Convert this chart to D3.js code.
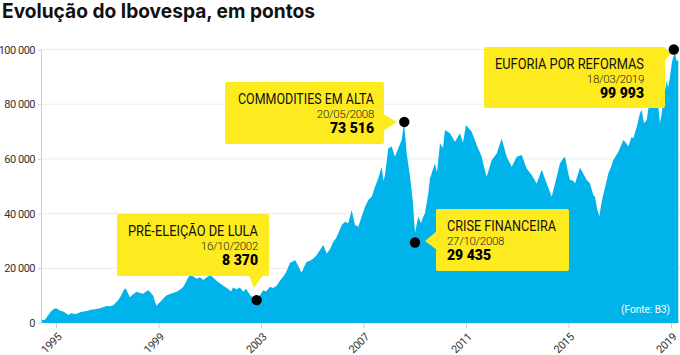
<!DOCTYPE html>
<html><head><meta charset="utf-8">
<script src="https://cdn.jsdelivr.net/npm/d3@7"></script>
<style>body{margin:0;background:#fff} svg{display:block}</style>
</head><body><svg id="c" width="680" height="355"></svg>
<script>
// Ibovespa series: [decimal year, points]
const series = [
[1994.415,1100],[1994.571,1200],[1994.700,2900],[1994.805,4200],[1994.895,5000],[1995.000,5400],[1995.078,5000],[1995.156,4500],[1995.285,4200],[1995.390,3600],[1995.480,2900],[1995.613,3700],[1995.702,3300],[1995.808,3400],[1995.937,3900],
[1996.065,4200],[1996.210,4400],[1996.327,4750],[1996.522,5000],[1996.717,5400],[1996.834,5800],[1996.979,6200],[1997.107,6100],[1997.236,6500],[1997.341,7500],[1997.431,8400],[1997.537,10000],[1997.615,11500],[1997.693,12700],[1997.759,12000],[1997.829,10500],[1997.888,9400],
[1998.005,10500],[1998.149,11400],[1998.278,11000],[1998.407,10700],[1998.512,11500],[1998.602,12000],[1998.707,11000],[1998.797,10000],[1998.863,7800],[1998.930,6200],[1998.980,7000],[1999.059,7600],[1999.187,9000],[1999.293,10000],[1999.449,10600],[1999.566,11000],[1999.710,11400],[1999.839,12200],[1999.968,13300],
[2000.073,15000],[2000.151,16500],[2000.229,17500],[2000.358,17000],[2000.491,16200],[2000.620,16700],[2000.748,15700],[2000.854,16500],[2001.010,17500],[2001.088,17000],[2001.205,16000],[2001.322,15000],[2001.400,14500],[2001.529,13600],[2001.634,13000],[2001.712,12500],[2001.829,11500],[2001.907,13000],
[2002.052,12300],[2002.180,13000],[2002.309,11400],[2002.415,12500],[2002.571,10200],[2002.688,9200],[2002.832,8400],[2002.922,9500],[2003.000,10800],[2003.090,12000],[2003.195,11500],[2003.351,13300],[2003.468,12800],[2003.613,13600],[2003.741,15500],[2003.870,17000],[2003.976,18500],
[2004.132,22000],[2004.249,22500],[2004.327,23000],[2004.405,21800],[2004.522,19500],[2004.588,18400],[2004.678,20500],[2004.783,22400],[2004.912,22800],[2005.041,23600],[2005.146,24500],[2005.302,26700],[2005.431,28500],[2005.564,25400],[2005.693,27000],[2005.821,29700],[2005.927,31000],
[2006.017,32800],[2006.149,35800],[2006.278,37000],[2006.407,36500],[2006.539,41300],[2006.668,35800],[2006.797,35200],[2006.930,38900],[2007.059,42500],[2007.187,45000],[2007.320,46200],[2007.449,49800],[2007.578,52900],[2007.710,57100],[2007.780,52000],[2007.839,54100],[2007.968,63900],
[2008.100,64500],[2008.229,60800],[2008.358,63900],[2008.491,66900],[2008.580,73500],[2008.686,62000],[2008.815,53600],[2008.920,45000],[2009.010,33000],[2009.139,38900],[2009.244,36500],[2009.334,38900],[2009.400,40100],[2009.529,47400],[2009.595,52900],[2009.790,58400],[2009.868,55000],[2009.985,65700],
[2010.102,64000],[2010.180,70600],[2010.376,69400],[2010.571,66300],[2010.766,69400],[2010.883,66000],[2011.000,72400],[2011.222,69900],[2011.418,65100],[2011.613,60800],[2011.702,57000],[2011.808,53500],
[2012.003,59600],[2012.198,62000],[2012.393,67500],[2012.588,60800],[2012.783,57100],[2012.979,60800],[2013.174,61400],[2013.369,56500],[2013.564,54100],[2013.759,51000],[2013.954,56000],
[2014.149,51000],[2014.344,46200],[2014.540,53500],[2014.668,58400],[2014.797,60200],[2014.863,60800],[2014.992,54700],[2015.059,52300],[2015.187,52000],[2015.254,51000],[2015.449,56800],[2015.644,53500],[2015.710,52300],[2015.839,51000],[2015.968,46800],
[2016.034,46200],[2016.112,42000],[2016.202,38900],[2016.268,43000],[2016.358,47000],[2016.463,51000],[2016.553,54700],[2016.659,57000],[2016.748,59600],[2016.943,62500],[2017.139,66900],[2017.271,65500],[2017.334,64500],[2017.466,68100],[2017.529,67500],[2017.661,71700],[2017.790,76700],[2017.857,77900],[2017.946,73000],
[2018.052,74200],[2018.141,80000],[2018.247,85200],[2018.337,83000],[2018.442,86400],[2018.493,80000],[2018.571,73000],[2018.629,76000],[2018.700,81500],[2018.766,85000],[2018.832,88800],[2018.883,86000],[2018.961,90000],[2019.039,95500],[2019.098,97500],[2019.156,98500],[2019.215,96000],[2019.285,96000]
];
const yTicks = [0, 20000, 40000, 60000, 80000, 100000];
const xTicks = [1995, 1999, 2003, 2007, 2011, 2015, 2019];
const annoTitles = ["PRÉ-ELEIÇÃO DE LULA", "COMMODITIES EM ALTA", "CRISE FINANCEIRA", "EUFORIA POR REFORMAS"];
const annoDates = ["16/10/2002", "20/05/2008", "27/10/2008", "18/03/2019"];
const annoValues = [8370, 73516, 29435, 99993];
const annoYears = [2002.832, 2008.592, 2009.010, 2019.11];

const BLUE = "#00b4eb", YELLOW = "#feeb1f";
const svg = d3.select("#c");
const x = d3.scaleLinear().domain([1995, 2019]).range([56, 671]);
const y = d3.scaleLinear().domain([0, 100000]).range([323, 49.5]);
const fmt = d => d3.format(",")(d).replace(/,/g, " ");

// title
svg.append("text").attr("x", 2).attr("y", 18)
  .attr("font-family", "Inter, Roboto, sans-serif").attr("font-weight", 700)
  .attr("font-size", 20).attr("fill", "#111")
  .attr("textLength", 313).attr("lengthAdjust", "spacingAndGlyphs")
  .text("Evolução do Ibovespa, em pontos");

// gridlines
svg.append("g").selectAll("line").data(yTicks.filter(d => d > 0)).join("line")
  .attr("x1", 41).attr("x2", 680).attr("y1", d => y(d)).attr("y2", d => y(d))
  .attr("stroke", "#ececec").attr("stroke-width", 1);

// area
svg.append("path").datum(series)
  .attr("fill", BLUE)
  .attr("d", d3.area().x(d => x(d[0])).y0(y(0)).y1(d => y(d[1])));

// y axis
const ya = svg.append("g").attr("transform", "translate(41,0)")
  .call(d3.axisLeft(y).tickValues(yTicks).tickSize(3).tickSizeOuter(0).tickPadding(3).tickFormat(fmt));
ya.select(".domain").attr("stroke", "#cfcfcf");
ya.selectAll(".tick line").attr("stroke", "#cfcfcf");
ya.selectAll("text").attr("font-family", "Roboto, sans-serif").attr("font-size", 11)
  .attr("letter-spacing", "-0.5px").attr("fill", "#333");

// x axis
const xa = svg.append("g").attr("transform", "translate(0,323)")
  .call(d3.axisBottom(x).tickValues(xTicks).tickSize(5).tickFormat(d3.format("d")));
xa.select(".domain").remove();
xa.selectAll(".tick line").attr("stroke", "#cfcfcf");
xa.selectAll("text").attr("font-family", "Roboto, sans-serif").attr("font-size", 11).attr("fill", "#333")
  .attr("letter-spacing", "-0.4px")
  .attr("x", 0).attr("y", 0).attr("dy", "0.35em").attr("text-anchor", "end")
  .attr("transform", "translate(3,12) rotate(-45)");

// source
svg.append("text").attr("x", 670).attr("y", 313).attr("text-anchor", "end")
  .attr("font-family", "Roboto, sans-serif").attr("font-size", 10).attr("fill", "#fff")
  .text("(Fonte: B3)");

// annotation boxes (layout)
const boxes = [
  {x: 117, y: 214, w: 152, h: 62, anchor: "end", tx: 258, ptr: [[249, 275], [263, 275], [254, 288]], tw: 130},
  {x: 225, y: 82, w: 159, h: 62, anchor: "end", tx: 374, ptr: [[383, 114], [383, 131], [397, 122]], tw: 136},
  {x: 436, y: 209, w: 133, h: 62, anchor: "start", tx: 447, ptr: [[437, 231], [437, 250], [425, 241]], tw: 109},
  {x: 484, y: 47, w: 181, h: 61, anchor: "end", tx: 644, ptr: [[664, 47], [664, 62], [671, 53]], tw: 149}
];
const ag = svg.append("g");
boxes.forEach((b, i) => {
  ag.append("rect").attr("x", b.x).attr("y", b.y).attr("width", b.w).attr("height", b.h)
    .attr("rx", 2).attr("fill", YELLOW);
  ag.append("path").attr("d", "M" + b.ptr.map(p => p.join(",")).join("L") + "Z").attr("fill", YELLOW);
  ag.append("text").attr("x", b.tx).attr("y", b.y + 21.5).attr("text-anchor", b.anchor)
    .attr("font-family", "Roboto, sans-serif").attr("font-size", 14).attr("fill", "#111")
    .attr("textLength", b.tw).attr("lengthAdjust", "spacingAndGlyphs")
    .text(annoTitles[i]);
  ag.append("text").attr("x", b.tx).attr("y", b.y + 35.5).attr("text-anchor", b.anchor)
    .attr("font-family", "Roboto, sans-serif").attr("font-weight", 300).attr("font-size", 11.5).attr("fill", "#222")
    .attr("letter-spacing", "-0.3px")
    .text(annoDates[i]);
  ag.append("text").attr("x", b.tx).attr("y", b.y + 50.5).attr("text-anchor", b.anchor)
    .attr("font-family", "Roboto, sans-serif").attr("font-weight", 900).attr("font-size", 14).attr("fill", "#000")
    .text(fmt(annoValues[i]));
});

// dots
svg.append("g").selectAll("circle").data(annoValues).join("circle")
  .attr("cx", (d, i) => x(annoYears[i])).attr("cy", d => y(d)).attr("r", 5.2).attr("fill", "#000");
</script></body></html>
